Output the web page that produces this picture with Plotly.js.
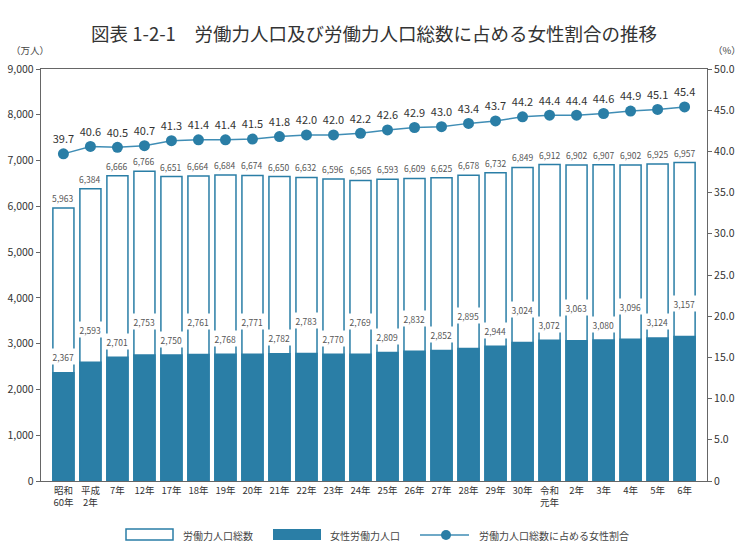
<!DOCTYPE html>
<html>
<head>
<meta charset="utf-8">
<script src="https://cdn.plot.ly/plotly-3.0.1.min.js"></script>
<style>
  html, body { margin: 0; padding: 0; background: #ffffff; }
  #chart { width: 748px; height: 556px; }
</style>
</head>
<body>
<div id="chart"></div>
<script>
// ---- data ----
const categories = ['昭和60年','平成2年','7年','12年','17年','18年','19年','20年','21年','22年','23年','24年','25年','26年','27年','28年','29年','30年','令和元年','2年','3年','4年','5年','6年'];
const tickLabels = ['昭和<br>60年','平成<br>2年','7年','12年','17年','18年','19年','20年','21年','22年','23年','24年','25年','26年','27年','28年','29年','30年','令和<br>元年','2年','3年','4年','5年','6年'];
const totalLabor = [5963,6384,6666,6766,6651,6664,6684,6674,6650,6632,6596,6565,6593,6609,6625,6678,6732,6849,6912,6902,6907,6902,6925,6957];
const womenLabor = [2367,2593,2701,2753,2750,2761,2768,2771,2782,2783,2770,2769,2809,2832,2852,2895,2944,3024,3072,3063,3080,3096,3124,3157];
const womenShare = [39.7,40.6,40.5,40.7,41.3,41.4,41.4,41.5,41.8,42.0,42.0,42.2,42.6,42.9,43.0,43.4,43.7,44.2,44.4,44.4,44.6,44.9,45.1,45.4];
const leftTicks = [0,1000,2000,3000,4000,5000,6000,7000,8000,9000];
const leftTickText = ['0','1,000','2,000','3,000','4,000','5,000','6,000','7,000','8,000','9,000'];
const rightTicks = [0,5,10,15,20,25,30,35,40,45,50];
const rightTickText = ['0','5.0','10.0','15.0','20.0','25.0','30.0','35.0','40.0','45.0','50.0'];
const seriesNames = ['労働力人口総数','女性労働力人口','労働力人口総数に占める女性割合'];
const titleText = '図表 1-2-1　労働力人口及び労働力人口総数に占める女性割合の推移';

// ---- styling ----
const BLUE = '#2a7ea6';
const LINEBLUE = '#3f8db5';
const FONT = '"Noto Sans CJK JP", "Noto Sans", sans-serif';
const L = 41, R = 707, T = 69, B = 481;
const px = x => (x - L) / (R - L);
const py = y => (B - y) / (B - T);
const fmt = v => v.toLocaleString('en-US');

const traces = [
  {
    type: 'bar', name: seriesNames[0], x: categories, y: totalLabor,
    marker: { color: '#ffffff', line: { color: BLUE, width: 1.5 } },
    width: 0.78, hoverinfo: 'skip'
  },
  {
    type: 'bar', name: seriesNames[1], x: categories, y: womenLabor,
    marker: { color: BLUE, line: { color: BLUE, width: 1.5 } },
    width: 0.78, hoverinfo: 'skip'
  },
  {
    type: 'scatter', mode: 'lines+markers+text', name: seriesNames[2],
    x: categories, y: womenShare, yaxis: 'y2',
    line: { color: LINEBLUE, width: 1.5 },
    marker: { color: BLUE, size: 11 },
    text: womenShare.map(v => v.toFixed(1)),
    textposition: 'top center',
    textfont: { family: FONT, size: 11, color: '#333333' },
    cliponaxis: false, hoverinfo: 'skip'
  }
];

const annotations = [];
categories.forEach((c, i) => {
  annotations.push({
    x: c, y: totalLabor[i], xref: 'x', yref: 'y',
    text: fmt(totalLabor[i]), showarrow: false,
    yanchor: 'bottom', yshift: 2,
    font: { family: FONT, size: 8.5, color: '#555555' }
  });
  annotations.push({
    x: c, y: womenLabor[i], xref: 'x', yref: 'y',
    text: fmt(womenLabor[i]), showarrow: false,
    yanchor: 'middle', yshift: (i % 2 === 0) ? 16 : 33,
    bgcolor: '#ffffff', borderpad: 1.5,
    font: { family: FONT, size: 8.5, color: '#555555' }
  });
});

// unit labels
annotations.push({ xref: 'paper', yref: 'paper', x: px(9), y: py(50), xanchor: 'left', yanchor: 'middle',
  text: '（万人）', showarrow: false, font: { family: FONT, size: 9.5, color: '#444444' } });
annotations.push({ xref: 'paper', yref: 'paper', x: px(711), y: py(50), xanchor: 'left', yanchor: 'middle',
  text: '（%）', showarrow: false, font: { family: FONT, size: 9.5, color: '#444444' } });

// custom legend
const legY = 535;
const legFont = { family: FONT, size: 10, color: '#444444' };
annotations.push({ xref: 'paper', yref: 'paper', x: px(181), y: py(legY), xanchor: 'left', yanchor: 'middle', text: seriesNames[0], showarrow: false, font: legFont });
annotations.push({ xref: 'paper', yref: 'paper', x: px(328), y: py(legY), xanchor: 'left', yanchor: 'middle', text: seriesNames[1], showarrow: false, font: legFont });
annotations.push({ xref: 'paper', yref: 'paper', x: px(477), y: py(legY), xanchor: 'left', yanchor: 'middle', text: seriesNames[2], showarrow: false, font: legFont });

const shapes = [
  { type: 'rect', xref: 'paper', yref: 'paper', x0: px(126), x1: px(173), y0: py(540), y1: py(529),
    fillcolor: '#ffffff', line: { color: BLUE, width: 1.5 } },
  { type: 'rect', xref: 'paper', yref: 'paper', x0: px(273), x1: px(321), y0: py(540), y1: py(529),
    fillcolor: BLUE, line: { width: 0 } },
  { type: 'line', xref: 'paper', yref: 'paper', x0: px(420), x1: px(469), y0: py(legY), y1: py(legY),
    line: { color: LINEBLUE, width: 1.5 } },
  { type: 'circle', xref: 'paper', yref: 'paper', x0: px(441), x1: px(451), y0: py(540), y1: py(530),
    fillcolor: BLUE, line: { width: 0 } }
];

const axisLine = '#666666';
const layout = {
  width: 748, height: 556,
  margin: { l: L, r: 748 - R, t: T, b: 556 - B, pad: 0 },
  paper_bgcolor: '#ffffff', plot_bgcolor: '#ffffff',
  font: { family: FONT, color: '#333333' },
  title: { text: titleText, x: 0.5, xanchor: 'center', y: 1 - 35 / 556, yanchor: 'middle', yref: 'container',
           font: { family: FONT, size: 18.5, color: '#333333' } },
  barmode: 'overlay',
  showlegend: false,
  hovermode: false,
  xaxis: {
    type: 'category', range: [-0.83, categories.length - 1 + 0.83],
    tickvals: categories, ticktext: tickLabels,
    ticks: '', showgrid: false, zeroline: false,
    showline: true, linecolor: axisLine, linewidth: 1.2, mirror: true,
    tickfont: { family: FONT, size: 9.5, color: '#333333' },
    automargin: false
  },
  yaxis: {
    range: [0, 9000], tickvals: leftTicks, ticktext: leftTickText,
    ticks: 'outside', ticklen: 4, tickcolor: axisLine, tickwidth: 1,
    showgrid: false, zeroline: false,
    showline: true, linecolor: axisLine, linewidth: 1.2, mirror: true,
    tickfont: { family: FONT, size: 10.5, color: '#333333' },
    automargin: false
  },
  yaxis2: {
    overlaying: 'y', side: 'right',
    range: [0, 50], tickvals: rightTicks, ticktext: rightTickText,
    ticks: 'outside', ticklen: 4, tickcolor: axisLine, tickwidth: 1,
    showgrid: false, zeroline: false, showline: false,
    tickfont: { family: FONT, size: 10.5, color: '#333333' },
    automargin: false
  },
  annotations: annotations,
  shapes: shapes
};

Plotly.newPlot('chart', traces, layout, { displayModeBar: false, staticPlot: true });
</script>
</body>
</html>
